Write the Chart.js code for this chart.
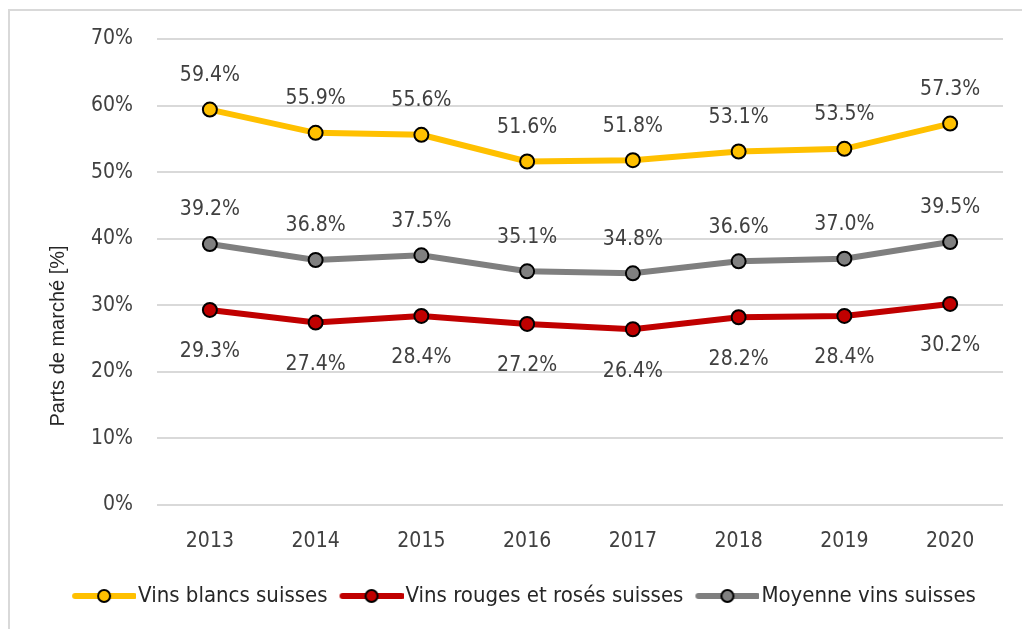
<!DOCTYPE html>
<html>
<head>
<meta charset="utf-8">
<script src="https://cdn.jsdelivr.net/npm/chart.js@4/dist/chart.umd.min.js"></script>
<style>
html,body{margin:0;padding:0;background:#fff;}
#wrap{width:1022px;height:629px;position:relative;}
</style>
</head>
<body>
<div id="wrap"><canvas id="c" width="1022" height="629"></canvas></div>
<script>
const years = ['2013','2014','2015','2016','2017','2018','2019','2020'];
const blancs = [59.4, 55.9, 55.6, 51.6, 51.8, 53.1, 53.5, 57.3];
const rouges = [29.3, 27.4, 28.4, 27.2, 26.4, 28.2, 28.4, 30.2];
const moyenne = [39.2, 36.8, 37.5, 35.1, 34.8, 36.6, 37.0, 39.5];
const seriesNames = ['Vins blancs suisses', 'Vins rouges et rosés suisses', 'Moyenne vins suisses'];
const yTicks = [0, 10, 20, 30, 40, 50, 60, 70];
const axisTitle = 'Parts de marché [%]';

const FONT = '"DejaVu Sans Condensed", "Liberation Sans Narrow", "DejaVu Sans", sans-serif';
const colors = ['#FFC000', '#C00000', '#7F7F7F'];
const pointFills = ['#FFC000', '#C00000', '#808080'];

// legend icon: visible part 63px, image is 72 wide (9px transparent at left)
function legendIcon(lineColor, fill) {
  const cv = document.createElement('canvas');
  cv.width = 72; cv.height = 18;
  const g = cv.getContext('2d');
  g.strokeStyle = lineColor; g.lineWidth = 6; g.lineCap = 'round';
  g.beginPath(); g.moveTo(11, 9); g.lineTo(70, 9); g.stroke();
  g.beginPath(); g.arc(40, 9, 6, 0, Math.PI * 2);
  g.fillStyle = fill; g.fill(); g.lineWidth = 2; g.strokeStyle = '#000'; g.stroke();
  return cv;
}

const frame = {
  id: 'frame',
  beforeDraw(chart) {
    const ctx = chart.ctx;
    ctx.save();
    ctx.fillStyle = '#fff';
    ctx.fillRect(0, 0, chart.width, chart.height);
    ctx.strokeStyle = '#D9D9D9';
    ctx.lineWidth = 2;
    ctx.strokeRect(9, 10, 1100, 700);
    ctx.restore();
  },
  afterDraw(chart) {
    const ctx = chart.ctx;
    ctx.save();
    ctx.translate(58, 336);
    ctx.rotate(-Math.PI / 2);
    ctx.font = '20px "Liberation Sans", Arial, sans-serif';
    ctx.fillStyle = '#262626';
    ctx.textAlign = 'center';
    ctx.textBaseline = 'middle';
    ctx.fillText(axisTitle, 0, 0);
    ctx.restore();
  }
};

const dataLabels = {
  id: 'dataLabels',
  afterDatasetsDraw(chart) {
    const ctx = chart.ctx;
    ctx.save();
    ctx.font = '21px ' + FONT;
    ctx.fillStyle = '#404040';
    ctx.textAlign = 'center';
    ctx.textBaseline = 'middle';
    chart.data.datasets.forEach((ds, i) => {
      const meta = chart.getDatasetMeta(i);
      const below = i === 1;
      meta.data.forEach((pt, j) => {
        const v = ds.data[j];
        const y = below ? pt.y + 42 : pt.y - 34;
        ctx.fillText(v.toFixed(1) + '%', pt.x, y);
      });
    });
    ctx.restore();
  }
};

function mkDs(label, data, k) {
  return {
    label, data,
    borderColor: colors[k],
    backgroundColor: pointFills[k],
    borderWidth: 6,
    pointRadius: 7,
    pointHoverRadius: 7,
    pointBackgroundColor: pointFills[k],
    pointBorderColor: '#000',
    pointBorderWidth: 2,
    tension: 0,
    pointStyle: 'circle'
  };
}

new Chart(document.getElementById('c'), {
  type: 'line',
  data: {
    labels: years,
    datasets: [
      mkDs(seriesNames[0], blancs, 0),
      mkDs(seriesNames[1], rouges, 1),
      mkDs(seriesNames[2], moyenne, 2)
    ]
  },
  plugins: [frame, dataLabels],
  options: {
    responsive: false,
    animation: false,
    devicePixelRatio: 1,
    layout: { padding: { left: 46, right: 19, top: 39, bottom: 12 } },
    plugins: {
      tooltip: { enabled: false },
      legend: {
        position: 'bottom',
        labels: {
          usePointStyle: true,
          pointStyleWidth: 54,
          boxHeight: 18,
          padding: 13,
          color: '#262626',
          font: { family: FONT, size: 22 },
          generateLabels(chart) {
            return chart.data.datasets.map((ds, i) => ({
              text: ds.label,
              fillStyle: pointFills[i],
              strokeStyle: colors[i],
              lineWidth: 0,
              pointStyle: legendIcon(colors[i], pointFills[i]),
              hidden: false,
              datasetIndex: i,
              fontColor: '#262626'
            }));
          }
        }
      }
    },
    scales: {
      x: {
        offset: true,
        afterFit(scale) { scale.height = 67; },
        grid: { display: false, drawTicks: false },
        border: { display: false },
        ticks: { color: '#404040', font: { family: FONT, size: 21 }, padding: 24 }
      },
      y: {
        min: 0, max: 70,
        afterBuildTicks(scale) { scale.ticks = yTicks.map(v => ({ value: v })); },
        afterFit(scale) { scale.width = 111; },
        grid: { color: '#D9D9D9', lineWidth: 2, drawTicks: false },
        border: { display: false },
        ticks: {
          color: '#404040',
          font: { family: FONT, size: 21 },
          padding: 24,
          callback: v => v + '%'
        }
      }
    }
  }
});
</script>
</body>
</html>
